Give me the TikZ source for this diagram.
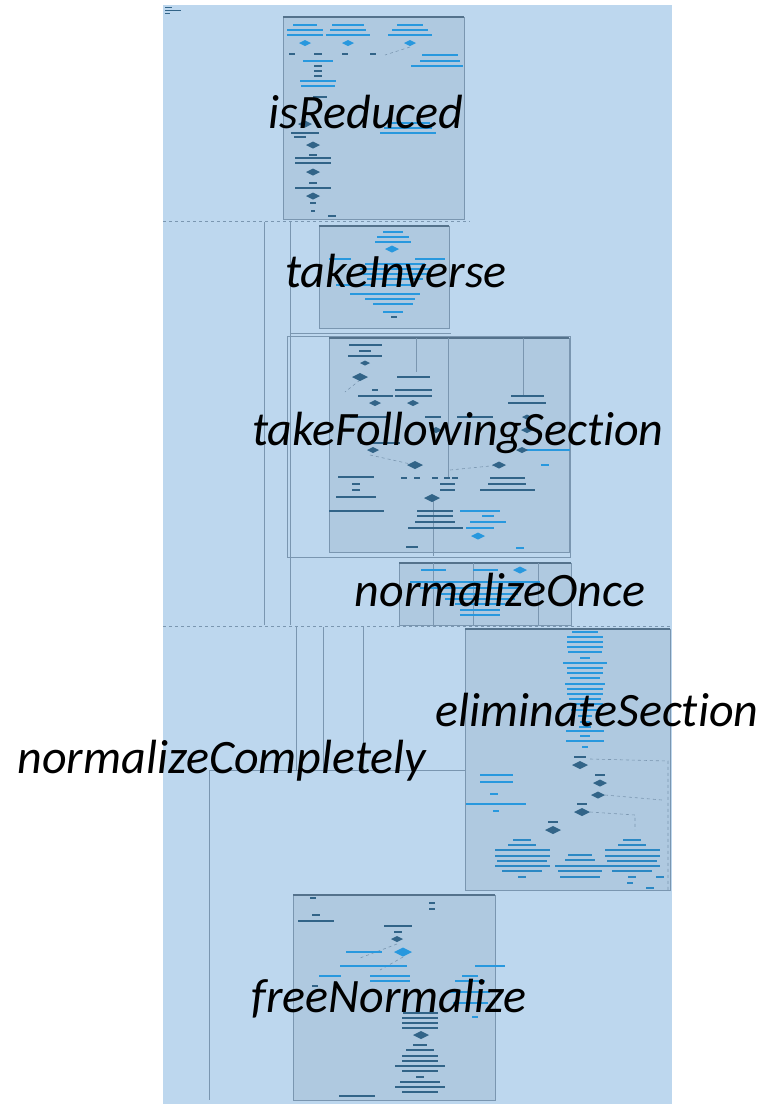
\documentclass[tikz,border=0pt]{standalone}
\usepackage{fontspec}
\setmainfont{Carlito}[Ligatures=NoCommon]
\usetikzlibrary{positioning}
\definecolor{sheetbg}{RGB}{189,215,238}
\definecolor{panelbg}{RGB}{175,201,224}
\definecolor{panelrim}{RGB}{84,114,140}
\definecolor{barblue}{RGB}{40,152,222}
\definecolor{bardark}{RGB}{50,100,136}
\definecolor{wireline}{RGB}{122,150,176}

\tikzset{
  panel/.style={draw=wireline,fill=panelbg,line width=0.4pt,anchor=north west,inner sep=0pt},
  fnlabel/.style={font=\fontsize{48}{48}\selectfont\itshape,text=black,inner sep=0pt},
  wire/.style={draw=wireline,line width=0.6pt},
  dashwire/.style={wire,dashed},
  rim/.style={draw=panelrim,line width=1.2pt},
}

\begin{document}
\begin{tikzpicture}[x=1pt,y=-1pt]
\useasboundingbox (0,0) rectangle (766,1106);
\fill[white] (0,0) rectangle (766,1106);
\fill[sheetbg] (163,5) rectangle (672,1104);
\draw[bardark,line width=0.5pt] (165,7) -- (172,7) (165,10) -- (181,10) (165,13) -- (170,13);

% frames and wires between the functions
\draw[dashwire] (163,221) -- (470,221);
\draw[dashwire] (163,626) -- (670,626);
\draw[wire] (264,222) -- (264,625) (290,222) -- (290,625);
\draw[wire] (290,333) -- (451,333);
\draw[wire] (287,336) rectangle (570,557);
\draw[wire] (296,627) -- (296,770) (323,627) -- (323,770) (363,627) -- (363,770);
\draw[wire] (209,770) -- (465,770) (209,770) -- (209,1100);

% function panels
\node[panel,minimum width=181pt,minimum height=202pt] (isredbox) at (283,17) {};
\node[panel,minimum width=130pt,minimum height=102pt] (invbox) at (319,226) {};
\node[panel,minimum width=240pt,minimum height=214pt] (follbox) at (329,338) {};
\node[panel,minimum width=172pt,minimum height=62pt] (oncebox) at (399,563) {};
\node[panel,minimum width=205pt,minimum height=261pt] (elimbox) at (465,629) {};
\node[panel,minimum width=202pt,minimum height=205pt] (freebox) at (293,895) {};
\foreach \b in {isredbox,invbox,follbox,oncebox,elimbox,freebox}
  \draw[rim] (\b.north west) -- (\b.north east);

% inner flow charts
\draw[wire] (416,338) -- (416,372) (448,338) -- (448,478) (523,338) -- (523,395) (433,500) -- (433,556);
\draw[wire] (433,563) -- (433,625) (473,563) -- (473,625) (538,563) -- (538,625);
\draw[dashwire] (370,455) -- (415,465) (450,470) -- (500,465) (360,380) -- (345,392);
\draw[dashwire] (590,759) -- (668,761) -- (668,890) (605,795) -- (662,800) (590,812) -- (635,815) -- (635,830);
\draw[dashwire] (410,47) -- (385,55) (397,944) -- (360,958) (403,957) -- (380,970);

\foreach \x/\y/\w in {305/25/24,305/30/36,305/35/36,348/25/32,348/30/36,348/35/44,410/25/26,410/30/36,
    410/35/44,440/55/36,440/61/40,437/66/52,318/61/30,318/81/36,318/86/34,408/123/44,408/128/48,408/133/56,
    393/232/20,393/237/32,393/242/36,340/259/22,430/259/30,395/264/60,395/269/70,395/274/64,395/279/56,
    355/285/38,398/285/26,385/294/70,390/299/50,393/304/40,393/312/20,
    480/511/40,488/516/12,488/522/36,480/528/28,520/548/8,545/450/50,545/465/8,
    433/570/25,485/570/25,475/582/130,470/588/100,478/594/80,480/599/70,480/604/50,480/610/40,480/615/40,
    496/775/33,496/782/33,494/794/8,496/804/60,496/811/6,
    364/952/36,362/966/45,392/966/30,490/966/30,330/976/22,390/976/40,390/981/40,470/976/16,470/981/30,
    470/992/40,470/1003/35,475/1017/6}
  \fill[barblue] (\x-\w/2,\y-1.3) rectangle (\x+\w/2,\y+1.3);

\foreach \x/\y/\w in {292/54/6,318/54/8,345/54/6,373/54/6,318/66/8,318/71/8,318/76/8,320/97/14,305/133/28,
    300/137/12,313/155/8,313/158/36,313/163/36,313/183/8,313/188/36,313/203/6,313/211/4,332/216/8,394/317/6,
    365/345/33,365/351/12,365/356/34,375/390/6,375/396/35,413/377/33,413/390/37,413/396/37,370/417/40,
    433/417/16,475/417/36,527/396/33,527/403/38,380/443/40,404/478/6,417/478/6,435/478/6,447/478/6,
    455/478/6,447/484/15,447/490/15,507/478/35,507/484/38,507/490/55,356/477/36,356/484/8,356/490/8,
    356/497/40,356/511/55,435/511/36,435/516/36,435/522/40,435/528/55,412/547/12,
    580/757/12,600/775/10,582/804/10,553/822/10,
    313/898/6,316/915/8,316/921/36,432/903/6,432/909/6,398/926/28,398/932/8,315/986/6,357/1096/36}
  \fill[bardark] (\x-\w/2,\y-1.3) rectangle (\x+\w/2,\y+1.3);

\foreach \y/\w in {632/26,637/36,642/36,647/36,652/34,658/10,663/44,668/36,673/36,678/30,684/40,689/36,
    694/36,699/32,704/36,710/28,716/14,722/10,727/12,731/38,736/10,741/38,747/6}
  \fill[barblue] (585-\w/2,\y-1.3) rectangle (585+\w/2,\y+1.3);

\foreach \x/\y/\w in {522/840/18,522/845/28,522/850/55,522/856/55,522/861/50,522/866/55,522/871/40,522/877/8,
    580/855/24,580/860/30,580/866/50,580/871/44,580/877/40,632/840/18,632/845/28,632/850/55,632/856/55,
    632/861/50,632/866/55,632/871/40,632/877/8,660/877/8,630/883/6,650/888/8}
  \fill[barblue!70!bardark] (\x-\w/2,\y-1.3) rectangle (\x+\w/2,\y+1.3);

\foreach \y/\w in {1013/35,1018/36,1023/36,1028/36,1045/14,1050/28,1056/36,1061/36,1066/50,1071/36,
    1077/8,1082/40,1087/50,1092/36}
  \fill[bardark] (420-\w/2,\y-1.3) rectangle (420+\w/2,\y+1.3);

\foreach \x/\y/\s in {305/43/6,348/43/6,410/43/6,392/249/7,478/536/7,520/570/7,403/952/9}
  \fill[barblue] (\x-\s,\y) -- (\x,\y-\s/2) -- (\x+\s,\y) -- (\x,\y+\s/2) -- cycle;

\foreach \x/\y/\s in {313/145/7,313/172/7,313/196/7,305/124/7,365/363/5,360/377/8,375/403/6,413/403/6,
    527/417/5,436/430/6,527/430/6,522/450/6,373/450/6,415/465/8,499/465/7,432/498/8,
    580/765/8,600/783/7,598/795/7,582/812/8,553/830/8,397/939/6,421/1035/8}
  \fill[bardark] (\x-\s,\y) -- (\x,\y-\s/2) -- (\x+\s,\y) -- (\x,\y+\s/2) -- cycle;

% function names
\node[fnlabel] (isred) at (366,112) {isReduced};
\node[fnlabel] (inv) at (396,271) {takeInverse};
\node[fnlabel] (foll) at (458,433) {takeFollowingSection};
\node[fnlabel] (once) at (500,590) {normalizeOnce};
\node[fnlabel] (elim) at (597,710) {eliminateSection};
\node[fnlabel] (compl) at (222,761) {normalizeCompletely};
\node[fnlabel] (free) at (389,999) {freeNormalize};
\end{tikzpicture}
\end{document}
